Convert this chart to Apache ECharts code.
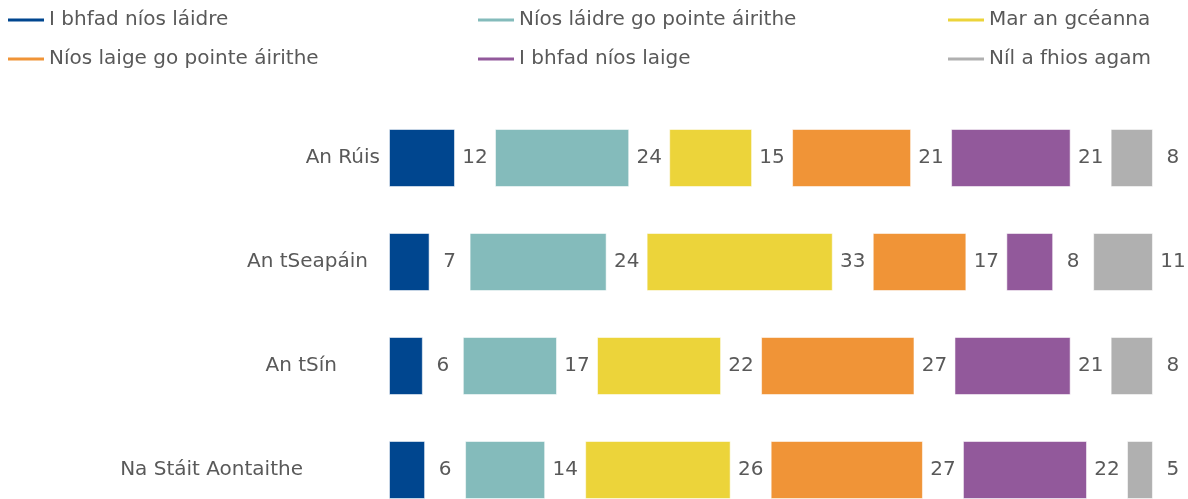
<!DOCTYPE html>
<html>
<head>
<meta charset="utf-8">
<script src="https://cdn.jsdelivr.net/npm/echarts@6/dist/echarts.min.js"></script>
<style>
  html, body { margin: 0; padding: 0; background: #fff; }
  #chart { width: 1188px; height: 499px; }
</style>
</head>
<body>
<div id="chart"></div>
<script>
// categories (top to bottom)
const countries = ['An Rúis', 'An tSeapáin', 'An tSín', 'Na Stáit Aontaithe']

// answer groups, legend order
const answers = [
  'I bhfad níos láidre',
  'Níos láidre go pointe áirithe',
  'Mar an gcéanna',
  'Níos laige go pointe áirithe',
  'I bhfad níos laige',
  'Níl a fhios agam'
]
const colors = ['#00468f', '#84bbbb', '#ecd43a', '#f09437', '#92599b', '#b0b0b0']

// percentages per answer, one value per country (labels are rounded)
const muchStronger = [11.7, 7.2, 6.0, 6.4]
const bitStronger = [23.8, 24.3, 16.7, 14.2]
const same = [14.7, 33.0, 22.0, 25.8]
const bitWeaker = [21.1, 16.6, 27.2, 27.0]
const muchWeaker = [21.2, 8.3, 20.6, 22.0]
const dontKnow = [7.5, 10.6, 7.5, 4.6]
const values = [muchStronger, bitStronger, same, bitWeaker, muchWeaker, dontKnow]

// room left after each segment for its number
const GAP = 7.09
const PX_PER_UNIT = 5.64

// country labels sit at different distances from the bars in the original
const labelPad = [9, 21, 52, 86]

const chart = echarts.init(document.getElementById('chart'))
const textColor = '#595959'
const font = 'DejaVu Sans, Verdana, sans-serif'
const fontSize = 20

const series = []
values.forEach((vals, i) => {
  series.push({
    name: answers[i],
    type: 'bar',
    stack: 'total',
    barWidth: 58,
    data: vals,
    itemStyle: { color: colors[i], borderColor: 'rgba(255,255,255,0.55)', borderWidth: 1 },
    emphasis: { disabled: true }
  })
  series.push({
    name: 'gap' + i,
    type: 'bar',
    stack: 'total',
    barWidth: 58,
    silent: true,
    data: vals.map(() => GAP),
    itemStyle: { color: 'transparent' },
    label: {
      show: true,
      position: 'inside',
      color: textColor,
      fontFamily: font,
      fontSize: fontSize,
      formatter: p => Math.round(vals[p.dataIndex])
    }
  })
})

const legendCol = (left, names) => ({
  left: left,
  top: 9,
  padding: 0,
  orient: 'vertical',
  icon: 'rect',
  itemWidth: 36,
  itemHeight: 3,
  itemGap: 17,
  itemStyle: { borderWidth: 0 },
  selectedMode: false,
  textStyle: { color: textColor, fontFamily: font, fontSize: fontSize, lineHeight: 22 },
  data: names
})

const option = {
  animation: false,
  legend: [
    legendCol(8, [answers[0], answers[3]]),
    legendCol(478, [answers[1], answers[4]]),
    legendCol(948, [answers[2], answers[5]])
  ],
  grid: {
    left: 389,
    top: 106,
    height: 416,
    width: (100 + 6 * GAP) * PX_PER_UNIT,
    outerBoundsMode: 'none',
    containLabel: false
  },
  xAxis: {
    type: 'value',
    min: 0,
    max: 100 + 6 * GAP,
    show: false
  },
  yAxis: {
    type: 'category',
    inverse: true,
    data: countries,
    axisLine: { show: false },
    axisTick: { show: false },
    axisLabel: {
      margin: 0,
      color: textColor,
      fontFamily: font,
      fontSize: fontSize,
      formatter: (v, idx) => '{c' + idx + '|' + v + '}',
      rich: {
        c0: { padding: [0, labelPad[0], 0, 0] },
        c1: { padding: [0, labelPad[1], 0, 0] },
        c2: { padding: [0, labelPad[2], 0, 0] },
        c3: { padding: [0, labelPad[3], 0, 0] }
      }
    }
  },
  series: series
}

chart.setOption(option)
</script>
</body>
</html>
